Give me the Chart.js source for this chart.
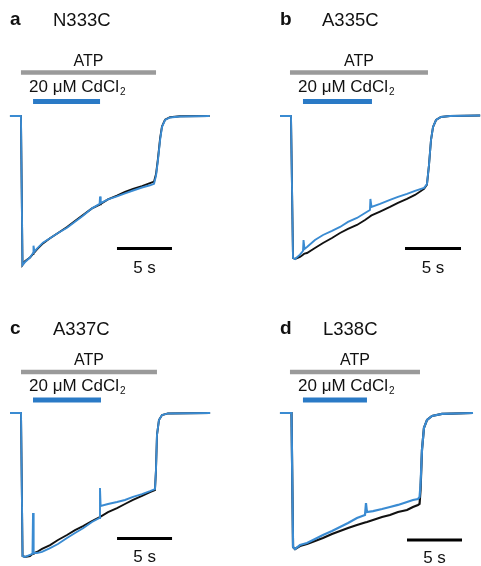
<!DOCTYPE html>
<html>
<head>
<meta charset="utf-8">
<script src="https://cdn.jsdelivr.net/npm/chart.js@4.4.0/dist/chart.umd.min.js"></script>
<style>
  html, body { margin: 0; padding: 0; background: #fff; }
  #wrap { position: relative; width: 481px; height: 566px; }
  canvas { position: absolute; }
</style>
</head>
<body>
<div id="wrap">
  <canvas id="pa" width="240" height="290" style="left:0;top:0"></canvas>
  <canvas id="pb" width="241" height="290" style="left:240px;top:0"></canvas>
  <canvas id="pc" width="240" height="276" style="left:0;top:290px"></canvas>
  <canvas id="pd" width="241" height="276" style="left:240px;top:290px"></canvas>
</div>
<script>
// panel labels
const panelLetters = ["a", "b", "c", "d"];
const mutants = ["N333C", "A335C", "A337C", "L338C"];

// application windows (s, relative to ATP onset)
const atpStart = [-0.05, -0.18, -0.09, -0.23];
const atpEnd = [12.23, 12.14, 12.27, 11.59];
const cdStart = [1.05, 0.98, 1.0, 0.95];
const cdEnd = [7.14, 7.14, 7.18, 6.77];
const scaleBarSec = 5;
const scaleBarStart = [8.68, 10.09, 8.64, 10.41];

// traces: time (s), normalized current; black = control, blue = with CdCl2
const aTime = [-1.05, -0.05, 0.09, 0.32, 0.77, 1.05, 1.09, 1.18, 1.41, 1.95, 2.59, 3.32, 4.14, 4.86, 5.59, 6.41, 7.1, 7.14, 7.2, 7.86, 8.68, 9.41, 10.14, 10.95, 11.68, 12.05, 12.23, 12.4, 12.6, 12.77, 13.05, 13.5, 14.4, 17.1];
const aBlue = [0, 0, -1.0, -0.98, -0.95, -0.92, -0.87, -0.91, -0.89, -0.85, -0.82, -0.785, -0.75, -0.71, -0.67, -0.62, -0.59, -0.54, -0.585, -0.56, -0.54, -0.52, -0.5, -0.48, -0.465, -0.455, -0.4, -0.3, -0.16, -0.074, -0.027, -0.01, -0.003, 0];
const aBlack = [0, 0, -1.0, -0.975, -0.95, -0.925, -0.92, -0.915, -0.895, -0.855, -0.82, -0.785, -0.745, -0.705, -0.665, -0.62, -0.595, -0.592, -0.59, -0.56, -0.535, -0.51, -0.49, -0.47, -0.45, -0.44, -0.39, -0.29, -0.15, -0.07, -0.025, -0.008, -0.002, 0];

const bTime = [-1.07, -0.09, 0.09, 0.27, 0.71, 0.98, 1.03, 1.12, 1.34, 2.05, 2.77, 3.57, 4.29, 5.0, 5.8, 6.52, 6.96, 7.0, 7.1, 7.86, 8.75, 9.46, 10.27, 10.98, 11.79, 12.05, 12.23, 12.41, 12.59, 12.86, 13.3, 14.1, 16.8];
const bBlue = [0, 0, -0.993, -1.0, -0.97, -0.944, -0.867, -0.93, -0.916, -0.867, -0.832, -0.804, -0.776, -0.741, -0.713, -0.678, -0.657, -0.58, -0.636, -0.615, -0.587, -0.566, -0.545, -0.524, -0.503, -0.476, -0.343, -0.168, -0.077, -0.028, -0.007, 0, 0.003];
const bBlack = [0, 0, -0.993, -1.0, -0.986, -0.97, -0.966, -0.962, -0.958, -0.923, -0.888, -0.853, -0.818, -0.79, -0.762, -0.727, -0.703, -0.7, -0.695, -0.668, -0.636, -0.608, -0.58, -0.552, -0.51, -0.48, -0.343, -0.168, -0.077, -0.028, -0.007, 0, 0.003];

const cTime = [-1.09, -0.09, 0.05, 0.27, 0.73, 0.95, 1.0, 1.06, 1.36, 1.82, 2.55, 3.27, 4.09, 4.82, 5.55, 6.36, 7.05, 7.09, 7.15, 7.82, 8.64, 9.36, 10.09, 10.91, 11.64, 12.09, 12.18, 12.27, 12.45, 12.73, 13.27, 17.1];
const cBlue = [0, 0, -0.993, -1.0, -0.986, -0.979, -0.694, -0.972, -0.972, -0.965, -0.938, -0.91, -0.868, -0.833, -0.8, -0.757, -0.729, -0.521, -0.646, -0.632, -0.618, -0.604, -0.583, -0.563, -0.542, -0.528, -0.396, -0.153, -0.049, -0.014, -0.003, 0];
const cBlack = [0, 0, -0.993, -1.0, -0.993, -0.98, -0.977, -0.974, -0.965, -0.944, -0.917, -0.882, -0.847, -0.813, -0.785, -0.75, -0.724, -0.722, -0.72, -0.688, -0.66, -0.632, -0.604, -0.576, -0.549, -0.535, -0.396, -0.153, -0.049, -0.014, -0.003, 0];

const dTime = [-1.14, -0.09, 0.05, 0.23, 0.68, 1.32, 2.05, 2.77, 3.59, 4.32, 5.05, 5.86, 6.59, 6.68, 6.77, 7.32, 8.14, 8.86, 9.59, 10.41, 10.95, 11.41, 11.55, 11.64, 11.77, 11.95, 12.23, 12.68, 13.59, 16.41];
const dBlue = [0, 0, -0.985, -1.0, -0.971, -0.956, -0.926, -0.897, -0.868, -0.838, -0.809, -0.772, -0.75, -0.662, -0.728, -0.721, -0.706, -0.691, -0.676, -0.654, -0.64, -0.632, -0.618, -0.529, -0.272, -0.11, -0.051, -0.022, -0.007, 0];
const dBlack = [0, 0, -0.985, -1.0, -0.978, -0.963, -0.941, -0.919, -0.89, -0.868, -0.846, -0.824, -0.805, -0.803, -0.801, -0.787, -0.765, -0.75, -0.728, -0.713, -0.691, -0.676, -0.669, -0.566, -0.272, -0.11, -0.051, -0.022, -0.007, 0];

const traces = [
  [aTime, aBlack, aBlue],
  [bTime, bBlack, bBlue],
  [cTime, cBlack, cBlue],
  [dTime, dBlack, dBlue],
];

// where things sit inside each canvas (pixels)
const layouts = [
  { id: "pa", dropX: 21.5, pps: 11, baseY: 116, peakY: 265, lw: 1.9, letterX: 10, titleX: 53, letterY: 25, atpTextY: 66, atpY: 72.5, cdTextX: 29, cdTextY: 92, cdY: 101.5, barY: 248.5, barTextY: 273 },
  { id: "pb", dropX: 52, pps: 11.2, baseY: 116, peakY: 259, lw: 1.9, letterX: 40, titleX: 82, letterY: 25, atpTextY: 66, atpY: 72.5, cdTextX: 58, cdTextY: 92, cdY: 101.5, barY: 248.5, barTextY: 273 },
  { id: "pc", dropX: 22, pps: 11, baseY: 123, peakY: 267, lw: 1.9, letterX: 10, titleX: 53, letterY: 44, atpTextY: 75, atpY: 82, cdTextX: 29, cdTextY: 101, cdY: 110, barY: 248.5, barTextY: 272 },
  { id: "pd", dropX: 52.5, pps: 11, baseY: 123, peakY: 259, lw: 2.2, letterX: 40, titleX: 83, letterY: 44, atpTextY: 75, atpY: 82, cdTextX: 58, cdTextY: 101, cdY: 110, barY: 250, barTextY: 273 },
];

const FONT = '"Liberation Sans", Arial, Helvetica, sans-serif';
const BLUE_TRACE = "#3a8bd2";
const BLUE_BAR = "#2a7ac6";
const GRAY_BAR = "#9a9a9a";

const annotate = {
  id: "annotate",
  afterDatasetsDraw(chart, args, opts) {
    const ctx = chart.ctx;
    const xs = chart.scales.x;
    const L = opts.layout;
    const i = opts.index;
    const hline = (x0, x1, y, color, w) => {
      ctx.beginPath();
      ctx.strokeStyle = color;
      ctx.lineWidth = w;
      ctx.lineCap = "butt";
      ctx.moveTo(x0, y);
      ctx.lineTo(x1, y);
      ctx.stroke();
    };
    ctx.save();
    ctx.fillStyle = "#111";
    ctx.textBaseline = "alphabetic";

    // panel letter and mutant name
    ctx.textAlign = "left";
    ctx.font = "bold 19px " + FONT;
    ctx.fillText(panelLetters[i], L.letterX, L.letterY);
    ctx.font = "18.5px " + FONT;
    ctx.fillText(mutants[i], L.titleX, L.letterY + 1);

    // ATP bar
    const ax0 = xs.getPixelForValue(atpStart[i]);
    const ax1 = xs.getPixelForValue(atpEnd[i]);
    hline(ax0, ax1, L.atpY, GRAY_BAR, 4.5);
    ctx.textAlign = "center";
    ctx.font = "16px " + FONT;
    ctx.fillText("ATP", (ax0 + ax1) / 2, L.atpTextY);

    // CdCl2 bar
    hline(xs.getPixelForValue(cdStart[i]), xs.getPixelForValue(cdEnd[i]), L.cdY, BLUE_BAR, 5);
    ctx.textAlign = "left";
    ctx.font = "17px " + FONT;
    const main = "20 \u03bcM CdCl";
    ctx.fillText(main, L.cdTextX, L.cdTextY);
    const w = ctx.measureText(main).width;
    ctx.font = "10px " + FONT;
    ctx.fillText("2", L.cdTextX + w + 1, L.cdTextY + 3);

    // time scale bar
    const sx0 = xs.getPixelForValue(scaleBarStart[i]);
    const sx1 = xs.getPixelForValue(scaleBarStart[i] + scaleBarSec);
    hline(sx0, sx1, L.barY, "#000", 3);
    ctx.textAlign = "center";
    ctx.font = "17px " + FONT;
    ctx.fillText(scaleBarSec + " s", (sx0 + sx1) / 2, L.barTextY);
    ctx.restore();
  },
};

layouts.forEach((L, i) => {
  const canvas = document.getElementById(L.id);
  const W = canvas.width, H = canvas.height;
  const amp = L.peakY - L.baseY;
  const [time, black, blue] = traces[i];
  const pts = (vals) => time.map((t, k) => ({ x: t, y: vals[k] }));

  new Chart(canvas.getContext("2d"), {
    type: "line",
    data: {
      datasets: [
        { label: "CdCl2", data: pts(blue), borderColor: BLUE_TRACE, borderWidth: L.lw, pointRadius: 0, tension: 0 },
        { label: "control", data: pts(black), borderColor: "#111", borderWidth: L.lw, pointRadius: 0, tension: 0 },
      ],
    },
    options: {
      responsive: false,
      animation: false,
      layout: { padding: 0 },
      scales: {
        x: { type: "linear", display: false, min: -L.dropX / L.pps, max: (W - L.dropX) / L.pps },
        y: { display: false, min: -(H - L.baseY) / amp, max: L.baseY / amp },
      },
      plugins: {
        legend: { display: false },
        tooltip: { enabled: false },
        annotate: { layout: L, index: i },
      },
    },
    plugins: [annotate],
  });
});
</script>
</body>
</html>
